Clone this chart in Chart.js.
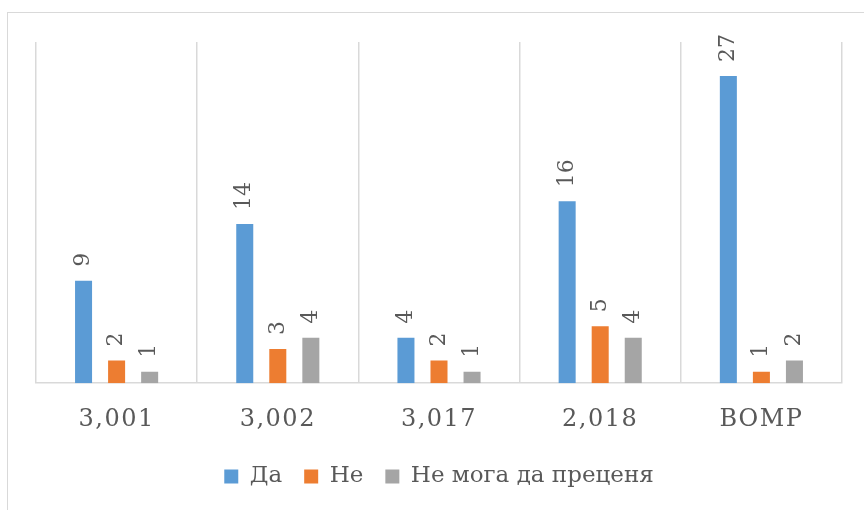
<!DOCTYPE html>
<html>
<head>
<meta charset="utf-8">
<script src="https://cdn.jsdelivr.net/npm/chart.js@4"></script>
<style>
  html, body { margin: 0; padding: 0; background: #fff; overflow: hidden; }
  #frame { position: absolute; left: 7px; top: 12px; width: 900px; height: 560px; border: 1.5px solid #d9d9d9; box-sizing: border-box; }
  #wrap { position: absolute; left: 0; top: 0; width: 864px; height: 510px; }
</style>
</head>
<body>
<div id="frame"></div>
<div id="wrap"><canvas id="c" width="864" height="510"></canvas></div>
<script>
const categories = ["3,001", "3,002", "3,017", "2,018", "ВОМР"];
const seriesNames = ["Да", "Не", "Не мога да преценя"];
const daValues = [9, 14, 4, 16, 27];
const neValues = [2, 3, 2, 5, 1];
const neMogaValues = [1, 4, 1, 4, 2];
const colors = ["#5b9bd5", "#ed7d31", "#a5a5a5"];
const textColor = "#595959";
const fontFamily = "'DejaVu Serif', serif";

const canvas = document.getElementById('c');
const ctx0 = canvas.getContext('2d');
ctx0.letterSpacing = '1px';

const dataLabels = {
  id: 'dataLabels',
  afterDatasetsDraw(chart) {
    const ctx = chart.ctx;
    ctx.save();
    ctx.font = "22px " + fontFamily;
    ctx.fillStyle = textColor;
    ctx.textAlign = 'left';
    ctx.textBaseline = 'middle';
    chart.data.datasets.forEach((ds, i) => {
      const meta = chart.getDatasetMeta(i);
      meta.data.forEach((bar, j) => {
        ctx.save();
        ctx.translate(bar.x, bar.y - 14);
        ctx.rotate(-Math.PI / 2);
        ctx.fillText(String(ds.data[j]), 0, 0);
        ctx.restore();
      });
    });
    ctx.restore();
    // wider tracking for the category labels drawn next (ticks layer z=1)
    ctx.letterSpacing = '1.5px';
  },
  afterDraw(chart) {
    chart.ctx.letterSpacing = '1px';
  }
};

new Chart(canvas, {
  type: 'bar',
  data: {
    labels: categories,
    datasets: [
      { label: seriesNames[0], data: daValues, backgroundColor: colors[0] },
      { label: seriesNames[1], data: neValues, backgroundColor: colors[1] },
      { label: seriesNames[2], data: neMogaValues, backgroundColor: colors[2] }
    ]
  },
  options: {
    responsive: false,
    animation: false,
    devicePixelRatio: 1,
    categoryPercentage: 0.615,
    barPercentage: 0.515,
    layout: { padding: { left: 36, right: 22, top: 42, bottom: 12 } },
    plugins: {
      legend: {
        position: 'bottom',
        labels: {
          boxWidth: 14,
          boxHeight: 14,
          padding: 22,
          color: textColor,
          font: { family: fontFamily, size: 23 }
        }
      },
      tooltip: { enabled: false }
    },
    scales: {
      x: {
        afterFit(scale) { scale.height -= 13; },
        grid: { display: true, offset: true, color: '#d9d9d9', lineWidth: 1.5, drawTicks: false },
        border: { display: true, color: '#d9d9d9', width: 1.5 },
        ticks: { z: 1, color: textColor, padding: 22, font: { family: fontFamily, size: 24 } }
      },
      y: {
        display: false,
        min: 0,
        max: 30
      }
    }
  },
  plugins: [dataLabels]
});
</script>
</body>
</html>
